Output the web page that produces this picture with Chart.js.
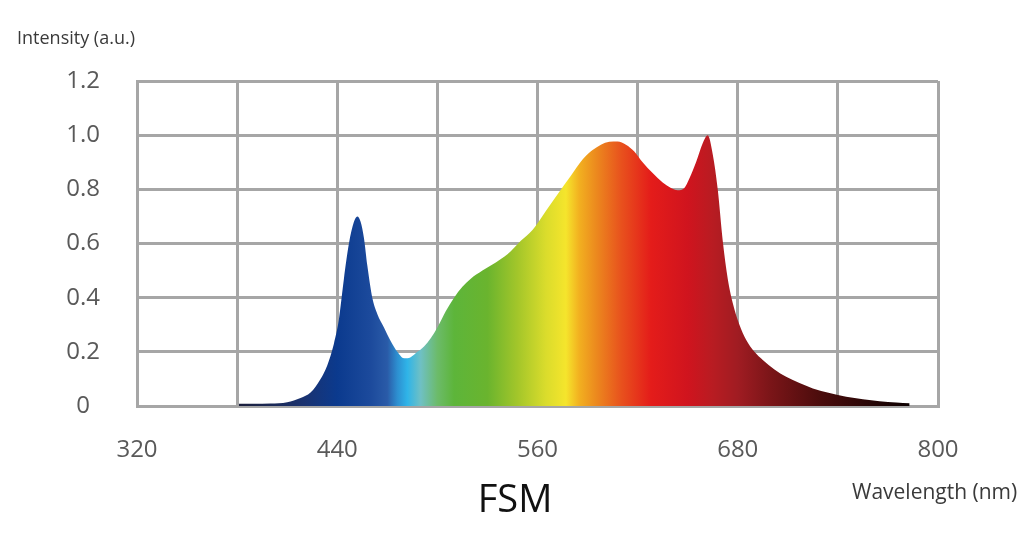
<!DOCTYPE html>
<html>
<head>
	<style type="text/css">
	body{
		margin: 0;
		font-family: "Open Sans";
		background: #fff;
	}
	#wrap{ position: relative; width: 1024px; height: 544px; }
	.lbl{ position: absolute; white-space: nowrap; line-height: 1; }
	</style>
    <title>FSM Spectrum</title>
    <script type="text/javascript" src="https://cdn.jsdelivr.net/npm/chart.js@4.4.1/dist/chart.umd.min.js"></script>
</head>
<body>
<div id="wrap">
	<canvas id="myChart" width="1024" height="544"></canvas>
	<div class="lbl" id="yTitle" style="left:17px; top:28px; font-size:18px; color:#3a3a3a;">Intensity (a.u.)</div>
	<div class="lbl" id="xTitle" style="left:852px; top:481px; font-size:21px; color:#3a3a3a;">Wavelength (nm)</div>
	<div class="lbl" id="chartTitle" style="left:515px; top:478px; font-size:38px; color:#111; transform:translateX(-50%);">FSM</div>
</div>
<script type="text/javascript">
    // spectrum
    var wavelength = [381, 390, 400, 410, 418, 424, 430, 434, 438, 441, 444, 447, 450, 452, 454, 456, 458, 461, 464, 468,
        472, 476, 480, 484, 488, 492, 496, 500, 505, 510, 515, 520, 527, 535, 542, 550, 557, 565, 573, 580,
        587, 593, 598, 603, 608, 613, 618, 623, 629, 635, 640, 644, 648, 651, 655, 659, 662, 665, 668, 671,
        674, 677, 681, 685, 690, 695, 702, 709, 717, 725, 735, 745, 755, 765, 775, 783];
    var intensity = [0.008, 0.008, 0.009, 0.014, 0.03, 0.05, 0.10, 0.15, 0.23, 0.32, 0.47, 0.60, 0.68, 0.70, 0.68, 0.62, 0.52, 0.40, 0.34, 0.29,
        0.24, 0.20, 0.176, 0.18, 0.20, 0.22, 0.25, 0.29, 0.35, 0.40, 0.44, 0.47, 0.50, 0.53, 0.56, 0.61, 0.65, 0.72, 0.79, 0.85,
        0.91, 0.945, 0.965, 0.976, 0.977, 0.965, 0.94, 0.90, 0.86, 0.825, 0.805, 0.797, 0.805, 0.84, 0.90, 0.97, 1.00, 0.93, 0.80, 0.61,
        0.47, 0.38, 0.30, 0.245, 0.20, 0.17, 0.135, 0.108, 0.085, 0.065, 0.048, 0.034, 0.025, 0.018, 0.013, 0.01];

    var xLabels = [320, 440, 560, 680, 800];

    // spectral colour stops for the fill
    var stopNm = [380, 420, 440, 460, 470, 476, 482, 490, 500, 510, 530, 548, 565, 577, 585, 595, 610, 628, 650, 665, 680, 700, 730, 785];
    var stopColor = ['#1b1f3a', '#1a3270', '#0b3a8e', '#1c4a9c', '#2a5ba8', '#2d8fd0', '#2fb4e8', '#6fc0c4', '#6cbb6a', '#5db53a',
        '#6ab42e', '#a3c62a', '#dadc2c', '#f5e52c', '#f2b020', '#ec8a1e', '#e8521d', '#e41c1a', '#d0141e', '#b81c22',
        '#a01c22', '#7a1518', '#4a0c0c', '#0a0000'];

    var points = [];
    for (var i = 0; i < wavelength.length; ++i) {
        points.push({x: wavelength[i], y: intensity[i]});
    }

    function spectrumFill(ctx) {
        var chart = ctx.chart;
        if (!chart.chartArea) return '#888';
        var x = chart.scales.x;
        var x0 = x.getPixelForValue(stopNm[0]);
        var x1 = x.getPixelForValue(stopNm[stopNm.length - 1]);
        var g = chart.ctx.createLinearGradient(x0, 0, x1, 0);
        for (var i = 0; i < stopNm.length; ++i) {
            g.addColorStop((stopNm[i] - stopNm[0]) / (stopNm[stopNm.length - 1] - stopNm[0]), stopColor[i]);
        }
        return g;
    }

    var gridColor = '#a6a6a6';
    var tickFont = {family: 'Open Sans', size: 24};

    var chart = new Chart(document.getElementById('myChart').getContext('2d'), {
        type: 'line',
        data: {
            datasets: [{
                data: points,
                fill: 'origin',
                backgroundColor: spectrumFill,
                borderWidth: 0,
                pointRadius: 0,
                cubicInterpolationMode: 'monotone'
            }]
        },
        options: {
            responsive: false,
            animation: false,
            layout: {padding: {top: 81, right: 86, left: 0, bottom: 0}},
            plugins: {legend: {display: false}, tooltip: {enabled: false}},
            scales: {
                x: {
                    type: 'linear',
                    min: 320,
                    max: 800,
                    afterFit: function (scale) { scale.height = 138; },
                    grid: {color: gridColor, lineWidth: 3, drawTicks: false},
                    border: {color: gridColor, width: 3},
                    ticks: {
                        stepSize: 60,
                        padding: 30,
                        color: '#595959',
                        font: tickFont,
                        maxRotation: 0,
                        autoSkip: false,
                        callback: function (v) { return xLabels.indexOf(v) >= 0 ? String(v) : ''; }
                    }
                },
                y: {
                    min: 0,
                    max: 1.2,
                    afterFit: function (scale) { scale.width = 137; },
                    grid: {color: gridColor, lineWidth: 3, drawTicks: false},
                    border: {color: gridColor, width: 3},
                    ticks: {
                        stepSize: 0.2,
                        padding: 37,
                        crossAlign: 'center',
                        color: '#595959',
                        font: tickFont,
                        callback: function (v) { return v === 0 ? '0' : v.toFixed(1); }
                    }
                }
            }
        }
    });
</script>
</body>
</html>
